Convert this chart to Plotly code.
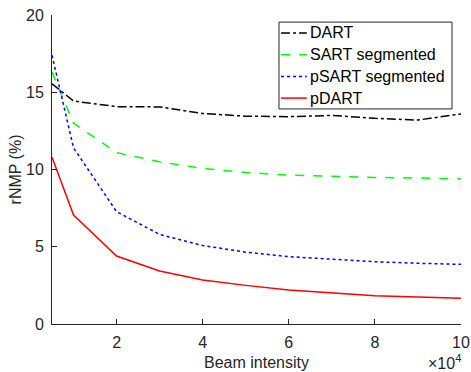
import plotly.graph_objects as go

# Beam intensity (in units of 1e4)
beam = [0.5, 1, 2, 3, 4, 5, 6, 7, 8, 9, 10]

# rNMP (%) per reconstruction method
dart = [15.55, 14.43, 14.07, 14.05, 13.63, 13.45, 13.42, 13.5, 13.31, 13.2, 13.6]
sart_seg = [16.3, 13.0, 11.09, 10.5, 10.07, 9.8, 9.64, 9.55, 9.49, 9.45, 9.39]
psart_seg = [17.4, 11.4, 7.27, 5.8, 5.08, 4.65, 4.36, 4.18, 4.03, 3.93, 3.86]
pdart = [10.8, 7.05, 4.4, 3.43, 2.85, 2.5, 2.2, 2.0, 1.83, 1.75, 1.66]

series = [
    ("DART", dart, "black", "dashdot"),
    ("SART segmented", sart_seg, "#00ff00", "dash"),
    ("pSART segmented", psart_seg, "blue", "dot"),
    ("pDART", pdart, "red", "solid"),
]

axis_color = "#262626"
family = "Liberation Sans, Arial, sans-serif"

fig = go.Figure()
for name, vals, color, dash in series:
    fig.add_trace(go.Scatter(
        x=beam, y=vals, name=name, mode="lines", showlegend=False,
        line=dict(color=color, width=1.5, dash=dash),
    ))

# Compact MATLAB-style legend box in the upper right corner
box_x0, box_x1 = 0.555, 0.978
box_y0, box_y1 = 0.696, 0.977
row_step = (box_y1 - box_y0) / len(series)
fig.add_shape(type="rect", xref="paper", yref="paper",
              x0=box_x0, x1=box_x1, y0=box_y0, y1=box_y1,
              line=dict(color=axis_color, width=1), fillcolor="white", layer="above")
for i, (name, vals, color, dash) in enumerate(series):
    yc = box_y1 - row_step * (i + 0.5)
    fig.add_shape(type="line", xref="paper", yref="paper",
                  x0=box_x0 + 0.005, x1=box_x0 + 0.068, y0=yc, y1=yc,
                  line=dict(color=color, width=1.5, dash=dash), layer="above")
    fig.add_annotation(text=name, xref="paper", yref="paper",
                       x=box_x0 + 0.07, y=yc, xanchor="left", yanchor="middle",
                       showarrow=False,
                       font=dict(family=family, size=16, color="black"))

fig.update_layout(
    width=471, height=372,
    margin=dict(l=52, r=10, t=15, b=48),
    paper_bgcolor="white", plot_bgcolor="white",
    font=dict(family=family, size=16, color=axis_color),
    xaxis=dict(
        range=[0.5, 10], tickvals=[2, 4, 6, 8, 10],
        ticks="inside", ticklen=5, tickcolor=axis_color, tickwidth=1,
        showline=True, linecolor=axis_color, linewidth=1,
        showgrid=False, zeroline=False, automargin=False,
        tickfont=dict(size=16), ticklabelstandoff=4,
        title=dict(text="Beam intensity", font=dict(size=16), standoff=6),
    ),
    yaxis=dict(
        range=[0, 20], tickvals=[0, 5, 10, 15, 20],
        ticks="inside", ticklen=5, tickcolor=axis_color, tickwidth=1,
        showline=True, linecolor=axis_color, linewidth=1,
        showgrid=False, zeroline=False, automargin=False,
        tickfont=dict(size=16), ticklabelstandoff=4,
        title=dict(text="rNMP (%)", font=dict(size=16), standoff=0),
    ),
)

fig.add_annotation(
    text="×10<sup>4</sup>", xref="paper", yref="paper",
    x=1.005, y=-0.163, xanchor="right", yanchor="bottom",
    showarrow=False, font=dict(size=16, color=axis_color),
)

fig.write_html("out.html")
